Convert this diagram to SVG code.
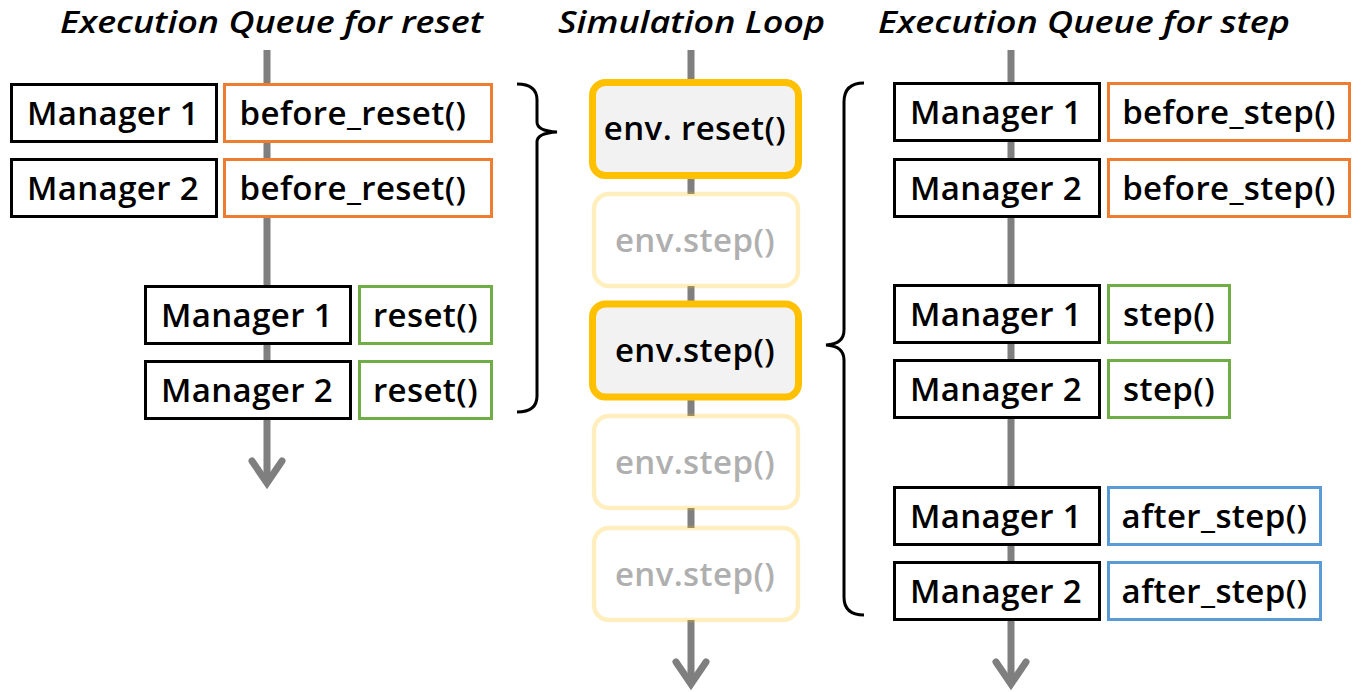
<svg xmlns="http://www.w3.org/2000/svg" width="1364" height="692" viewBox="0 0 1364 692">
<style>
.t{font-family:"Open Sans","Noto Sans","Liberation Sans",sans-serif;font-weight:600;font-size:33px;letter-spacing:0.4px;fill:#000;text-anchor:middle}
.title{font-family:"Open Sans","Noto Sans","Liberation Sans",sans-serif;font-weight:600;font-style:italic;font-size:30px;fill:#000}
.faint{fill:#AFAFAF}
.mgr{fill:#fff;stroke:#000;stroke-width:3}
.org{fill:#fff;stroke:#ED7D31;stroke-width:3}
.grn{fill:#fff;stroke:#70AD47;stroke-width:3}
.blu{fill:#fff;stroke:#5B9BD5;stroke-width:3}
.act{fill:#F2F2F2;stroke:#FFC000;stroke-width:7}
.fad{fill:#fff;stroke:#FFC000;stroke-opacity:0.25;stroke-width:4.5}
.flow{stroke:#7F7F7F;stroke-width:7;fill:none}
.head{stroke:#7F7F7F;stroke-width:7;fill:none;stroke-linecap:round;stroke-linejoin:miter}
.brace{stroke:#000;stroke-width:3;fill:none}
</style>
<g id="titles">
<text class="title" x="60" y="33" textLength="423" lengthAdjust="spacingAndGlyphs">Execution Queue for reset</text>
<text class="title" x="558" y="33" textLength="267" lengthAdjust="spacingAndGlyphs">Simulation Loop</text>
<text class="title" x="878" y="33" textLength="412" lengthAdjust="spacingAndGlyphs">Execution Queue for step</text>
</g>
<g id="connectors">
<line class="flow" x1="267" y1="50" x2="267" y2="480"/>
<path class="head" d="M252,461 L267,483 L282,461"/>
<line class="flow" x1="691" y1="50" x2="691" y2="682"/>
<path class="head" d="M676,662 L691,684 L706,662"/>
<line class="flow" x1="1011" y1="50" x2="1011" y2="682"/>
<path class="head" d="M996,662 L1011,684 L1026,662"/>
<path id="brace-reset" class="brace" d="M517,84 Q537,84 537,100 L537,122 Q537,131 557,132 Q537,133 537,142 L537,396 Q537,412 517,412"/>
<path id="brace-step" class="brace" d="M864,83 Q844,83 844,102 L844,330 Q844,344 826,345 Q844,346 844,360 L844,597 Q844,615 864,615"/>
</g>
<g id="reset-m1-before"><rect class="mgr" x="11.5" y="84.5" width="205" height="57"/><text class="t" x="113" y="125">Manager 1</text><rect class="org" x="224.5" y="84.5" width="267" height="57"/><text class="t" x="353" y="125">before_reset()</text></g>
<g id="reset-m2-before"><rect class="mgr" x="11.5" y="159.5" width="205" height="57"/><text class="t" x="113" y="200">Manager 2</text><rect class="org" x="224.5" y="159.5" width="267" height="57"/><text class="t" x="353" y="200">before_reset()</text></g>
<g id="reset-m1-reset"><rect class="mgr" x="145.5" y="286.5" width="205" height="57"/><text class="t" x="247" y="327">Manager 1</text><rect class="grn" x="359.5" y="286.5" width="132" height="57"/><text class="t" x="425.5" y="327">reset()</text></g>
<g id="reset-m2-reset"><rect class="mgr" x="145.5" y="361.5" width="205" height="57"/><text class="t" x="247" y="402">Manager 2</text><rect class="grn" x="359.5" y="361.5" width="132" height="57"/><text class="t" x="425.5" y="402">reset()</text></g>
<g id="loop-reset"><rect class="act" x="592.5" y="82.5" width="206" height="93" rx="13"/><text class="t" x="695" y="140">env. reset()</text></g>
<g id="loop-step1"><rect class="fad" x="594" y="194" width="204" height="92" rx="15"/><text class="t faint" x="695" y="252">env.step()</text></g>
<g id="loop-step2"><rect class="act" x="592.5" y="304" width="206" height="93" rx="13"/><text class="t" x="695" y="362">env.step()</text></g>
<g id="loop-step3"><rect class="fad" x="594" y="416" width="204" height="92" rx="15"/><text class="t faint" x="695" y="474">env.step()</text></g>
<g id="loop-step4"><rect class="fad" x="594" y="528" width="204" height="92" rx="15"/><text class="t faint" x="695" y="586">env.step()</text></g>
<g id="step-m1-before"><rect class="mgr" x="894.5" y="83.5" width="205" height="57"/><text class="t" x="996" y="124">Manager 1</text><rect class="org" x="1108.5" y="83.5" width="241" height="57"/><text class="t" x="1229" y="124">before_step()</text></g>
<g id="step-m2-before"><rect class="mgr" x="894.5" y="159.5" width="205" height="57"/><text class="t" x="996" y="200">Manager 2</text><rect class="org" x="1108.5" y="159.5" width="241" height="57"/><text class="t" x="1229" y="200">before_step()</text></g>
<g id="step-m1-step"><rect class="mgr" x="894.5" y="285.5" width="205" height="57"/><text class="t" x="996" y="326">Manager 1</text><rect class="grn" x="1108.5" y="285.5" width="121" height="57"/><text class="t" x="1169" y="326">step()</text></g>
<g id="step-m2-step"><rect class="mgr" x="894.5" y="360.5" width="205" height="57"/><text class="t" x="996" y="401">Manager 2</text><rect class="grn" x="1108.5" y="360.5" width="121" height="57"/><text class="t" x="1169" y="401">step()</text></g>
<g id="step-m1-after"><rect class="mgr" x="894.5" y="487.5" width="205" height="57"/><text class="t" x="996" y="528">Manager 1</text><rect class="blu" x="1108.5" y="487.5" width="212" height="57"/><text class="t" x="1214.5" y="528">after_step()</text></g>
<g id="step-m2-after"><rect class="mgr" x="894.5" y="562.5" width="205" height="57"/><text class="t" x="996" y="603">Manager 2</text><rect class="blu" x="1108.5" y="562.5" width="212" height="57"/><text class="t" x="1214.5" y="603">after_step()</text></g>
</svg>
